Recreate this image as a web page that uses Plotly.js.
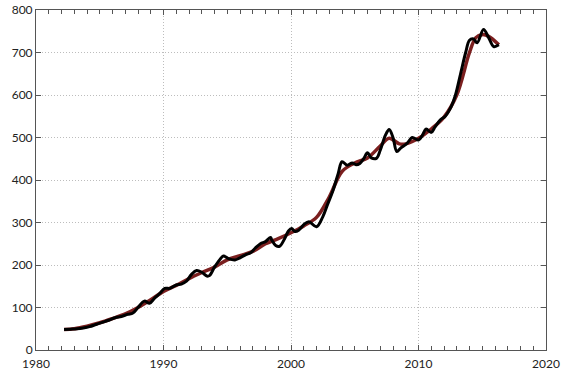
<!DOCTYPE html>
<html>
<head>
<meta charset="utf-8">
<script src="https://cdn.plot.ly/plotly-3.0.1.min.js"></script>
<style>html,body{margin:0;padding:0;background:#fff;}#chart{width:565px;height:375px;}</style>
</head>
<body>
<div id="chart"></div>
<script>
// Observed series (black dots)
const obsYears = [1982.2,1982.7,1983.2,1983.7,1984.2,1984.7,1985.2,1985.7,1986.2,1986.7,1987.2,1987.6,1988.0,1988.5,1988.9,1989.3,1989.7,1990.1,1990.5,1991.0,1991.4,1991.8,1992.2,1992.6,1993.0,1993.4,1993.6,1994.0,1994.4,1994.7,1995.1,1995.6,1996.0,1996.5,1996.8,1997.2,1997.6,1998.0,1998.4,1998.5,1998.8,1999.1,1999.5,1999.8,2000.05,2000.3,2000.6,2001.0,2001.4,2002.0,2002.5,2002.9,2003.3,2003.7,2004.0,2004.4,2004.8,2005.1,2005.4,2005.7,2006.0,2006.3,2006.7,2007.0,2007.4,2007.7,2008.0,2008.3,2008.6,2009.1,2009.5,2010.0,2010.3,2010.6,2011.0,2011.3,2011.7,2012.1,2012.6,2012.9,2013.3,2013.7,2014.0,2014.3,2014.6,2015.1,2015.5,2015.9,2016.3];
const obsValues = [48,49,50,52,55,60,65,70,76,79,84,87,100,115,110,122,133,145,145,153,155,162,178,187,183,174,175,195,212,221,215,212,217,225,228,240,250,255,265,258,246,244,262,280,286,279,282,295,302,290,314,345,376,415,443,435,440,436,439,450,464,452,451,470,505,519,500,467,475,486,500,494,505,520,512,525,541,550,575,600,650,700,729,732,723,754,735,714,718];
// Smoothed trend (red line)
const trendYears = [1982.2,1983,1984,1985,1986,1987,1988,1989,1990,1991,1992,1993,1994,1995,1996,1997,1998,1999,2000,2001,2002,2003,2004,2005,2006,2007,2007.7,2008.5,2009,2010,2011,2012,2013,2014,2014.5,2015,2015.5,2016.3];
const trendValues = [48,50,56,64,74,85,100,118,138,152,168,182,195,212,222,232,250,262,276,292,312,360,420,440,452,480,498,485,485,498,520,548,600,700,735,742,738,718];

const traces = [
  {x: trendYears, y: trendValues, type:'scatter', mode:'lines',
   line:{color:'#7b1f1f', width:3.5, shape:'spline', smoothing:1}, hoverinfo:'skip'},
  {x: obsYears, y: obsValues, type:'scatter', mode:'lines',
   line:{color:'#000000', width:3, shape:'spline', smoothing:1}, hoverinfo:'skip'}
];

const axisCommon = {
  showline:true, linecolor:'#555', linewidth:1, mirror:'ticks',
  ticks:'inside', ticklen:5, tickcolor:'#555',
  showgrid:true, gridcolor:'#bdbdbd', griddash:'1px,2px', gridwidth:1,
  zeroline:false, tickfont:{family:'Lato, sans-serif', size:12, color:'#222'}
};

const layout = {
  width:565, height:375,
  margin:{l:36, r:19, t:10, b:25},
  paper_bgcolor:'#fff', plot_bgcolor:'#fff',
  showlegend:false,
  xaxis: Object.assign({}, axisCommon, {range:[1980,2020], dtick:10, tick0:1980, ticklabelstandoff:3,
    minor:{dtick:1, ticks:'inside', ticklen:4, tickcolor:'#555', showgrid:false}}),
  yaxis: Object.assign({}, axisCommon, {range:[0,800], dtick:100, tick0:0})
};

Plotly.newPlot('chart', traces, layout, {staticPlot:true});
</script>
</body>
</html>
